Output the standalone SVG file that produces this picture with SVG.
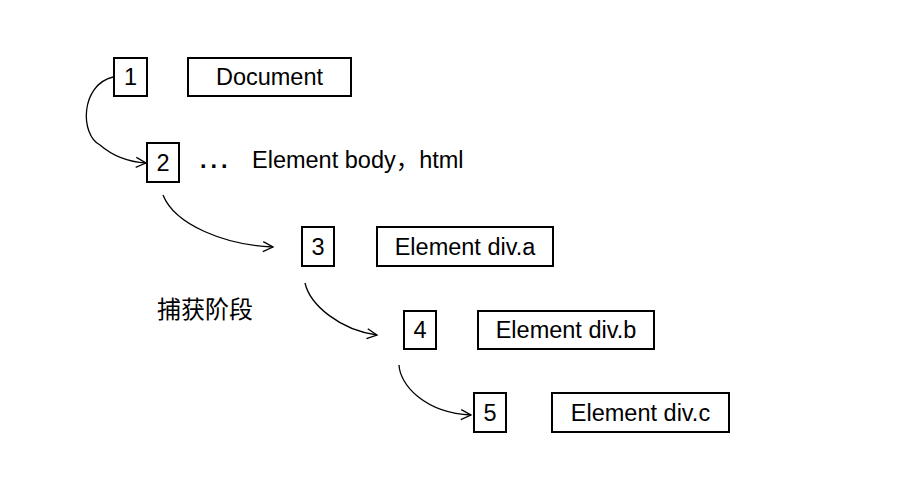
<svg xmlns="http://www.w3.org/2000/svg" width="910" height="486" viewBox="0 0 910 486">
<style>
.box{fill:#fff;stroke:#000;stroke-width:2}
.t{font-family:"Liberation Sans",Arial,sans-serif;font-size:23.5px;fill:#000;text-anchor:middle;dominant-baseline:central}
.tl{font-family:"Liberation Sans","Noto Sans CJK SC",Arial,sans-serif;font-size:23.5px;fill:#000}
.cap{font-family:"Noto Sans CJK SC",sans-serif;font-size:24px;fill:#000}
.c{fill:none;stroke:#000;stroke-width:1.3;marker-end:url(#a)}
</style>
<defs>
<marker id="a" markerWidth="14" markerHeight="14" refX="12" refY="6" orient="auto" markerUnits="userSpaceOnUse">
<path d="M2,1 L12,6 L2,11" fill="none" stroke="#000" stroke-width="1.3"/>
</marker>
</defs>
<rect width="910" height="486" fill="#fff"/>
<g id="connectors">
<path class="c" d="M113,77 C80,85 80,135 100,145 C115,158 130,162 146,163"/>
<path class="c" d="M163,195 C175,225 225,245 273,247"/>
<path class="c" d="M305,283 C310,305 340,330 377,335"/>
<path class="c" d="M399,365 C400,385 425,413 471,415"/>
</g>
<g id="n1"><rect class="box" x="114" y="58" width="33" height="38"/><text class="t" x="130.5" y="77">1</text></g>
<g id="doc"><rect class="box" x="188" y="58" width="163" height="38"/><text class="t" x="269.5" y="77">Document</text></g>
<g id="n2"><rect class="box" x="147" y="143" width="32" height="39"/><text class="t" x="163" y="162.5">2</text></g>
<g id="body"><text class="tl" x="200" y="168" font-weight="bold" letter-spacing="4">...</text><text class="tl" x="252" y="168">Element body，html</text></g>
<g id="n3"><rect class="box" x="302" y="227" width="32" height="39"/><text class="t" x="318" y="246.5">3</text></g>
<g id="diva"><rect class="box" x="377" y="227" width="176" height="39"/><text class="t" x="465" y="246.5">Element div.a</text></g>
<g id="n4"><rect class="box" x="404" y="311" width="32" height="38"/><text class="t" x="420" y="330">4</text></g>
<g id="divb"><rect class="box" x="478" y="311" width="176" height="38"/><text class="t" x="566" y="330">Element div.b</text></g>
<g id="n5"><rect class="box" x="474" y="393" width="32" height="39"/><text class="t" x="490" y="412.5">5</text></g>
<g id="divc"><rect class="box" x="552" y="393" width="177" height="39"/><text class="t" x="640.5" y="412.5">Element div.c</text></g>
<g id="caption"><text class="cap" x="157" y="318">捕获阶段</text></g>
</svg>
